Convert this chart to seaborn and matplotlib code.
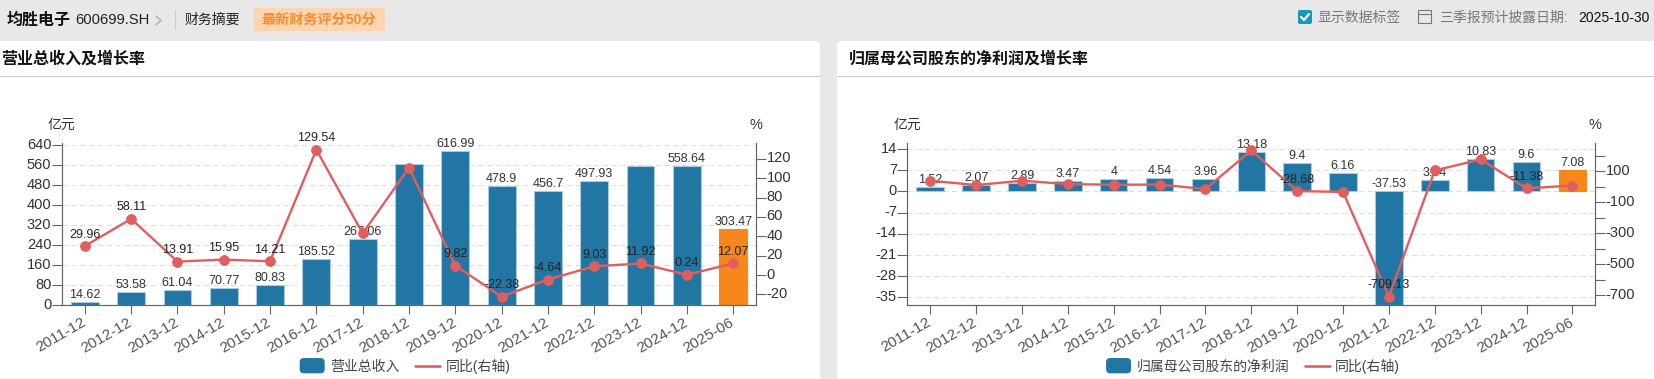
import numpy as np
import pandas as pd
import matplotlib
matplotlib.use("Agg")
import matplotlib.pyplot as plt
import seaborn as sns
from matplotlib.lines import Line2D
from matplotlib.patches import FancyBboxPatch, Patch, Rectangle
from matplotlib.legend_handler import HandlerPatch
from matplotlib.transforms import ScaledTranslation

periods = ["2011-12", "2012-12", "2013-12", "2014-12", "2015-12", "2016-12", "2017-12", "2018-12",
           "2019-12", "2020-12", "2021-12", "2022-12", "2023-12", "2024-12", "2025-06"]

# 营业总收入 (2018, 2023 have no label in the picture)
revenue = [14.62, 53.58, 61.04, 70.77, 80.83, 185.52, 267.06, 565, 616.99, 478.9, 456.7, 497.93, 559, 558.64, 303.47]
revenue_yoy = [29.96, 58.11, 13.91, 15.95, 14.21, 129.54, 43, 111, 9.82, -22.38, -4.64, 9.03, 11.92, 0.24, 12.07]
revenue_bar_hidden = [7, 12]
revenue_yoy_hidden = [6, 7]

# 归母净利润
profit = [1.52, 2.07, 2.89, 3.47, 4, 4.54, 3.96, 13.18, 9.4, 6.16, -37.53, 3.94, 10.83, 9.6, 7.08]
profit_yoy = [38, 10, 38, 16, 12, 13, -16, 233, -28.68, -34.5, -709.13, 104, 175, -11.38, 7]
profit_yoy_hidden = [0, 1, 2, 3, 4, 5, 6, 7, 9, 11, 12, 14]

W, H = 1654, 379
BLUE = "#2176A3"
ORANGE = "#F7871A"
RED = "#E15E5E"
AXIS = "#666666"
TEXT = "#333333"

sns.set_theme(style="white")
plt.rcParams["font.family"] = ["Liberation Sans", "Noto Sans CJK SC"]
plt.rcParams["axes.unicode_minus"] = False


class RoundHandler(HandlerPatch):
    def create_artists(self, legend, orig, xd, yd, width, height, fontsize, trans):
        box = FancyBboxPatch((-xd + 2, -yd), width - 4, height, boxstyle="round,pad=2,rounding_size=3",
                             fc=BLUE, ec="none", transform=trans)
        return [box]


def fx(x):
    return x / W


def fy(y):
    return 1 - y / H


def label(x, y, s, size=10, color=TEXT, ha="left", weight="normal"):
    fig.text(fx(x), fy(y), s, fontsize=size, color=color, ha=ha, va="center", fontweight=weight)


def rect(x0, y0, x1, y1, color, zorder=0):
    fig.add_artist(Rectangle((fx(x0), fy(y1)), fx(x1 - x0), (y1 - y0) / H, transform=fig.transFigure,
                             fc=color, ec="none", zorder=zorder))


def panel(left, right, bars, yoy, ylim, ylim2, yticks, ticks2, labels2, bar_hidden, yoy_hidden, bar_name, legend_x):
    top, bottom = 143.3, 305.3
    ax = fig.add_axes([fx(left), fy(bottom), fx(right - left), (bottom - top) / H])
    ax.patch.set_alpha(0)
    df = pd.DataFrame({"period": periods, "value": bars})
    colors = {p: BLUE for p in periods}
    colors[periods[-1]] = ORANGE
    sns.barplot(data=df, x="period", y="value", hue="period", palette=colors, dodge=False, legend=False,
                width=0.6, saturation=1, edgecolor="#A9CBDD", linewidth=0.8, ax=ax)
    for p in ax.containers[-1]:
        p.set_edgecolor(ORANGE)
    ax.set_xlim(-0.5, len(periods) - 0.5)
    ax.set_ylim(*ylim)
    ax.set_yticks(yticks)
    ax.set_yticklabels([str(v) for v in yticks])
    ax.set_xticks(np.arange(len(periods)))
    ax.set_xticklabels(periods, rotation=30, ha="right", va="center", rotation_mode="anchor")
    ax.set_xlabel("")
    ax.set_ylabel("")
    ax.set_axisbelow(True)
    ax.grid(True, axis="y", color="#DDDDDD", linestyle=(0, (5, 3.5)), linewidth=0.75)
    ax.tick_params(axis="y", length=7, width=0.8, color=AXIS, labelcolor=TEXT, labelsize=10.5, pad=0.5, left=True)
    ax.tick_params(axis="x", length=6.5, width=0.8, color=AXIS, labelcolor="#555555", labelsize=11, pad=5, bottom=True)
    up = ScaledTranslation(0, 2 / 100, fig.dpi_scale_trans)
    for t in ax.get_yticklabels():
        t.set_transform(t.get_transform() + up)
    for i, v in enumerate(bars):
        if i not in bar_hidden:
            ax.annotate(f"{v:g}", (i, max(v, 0)), xytext=(0, 7), textcoords="offset pixels", ha="center", va="center",
                        fontsize=9, color=TEXT, zorder=5)

    ax2 = ax.twinx()
    ax2.patch.set_alpha(0)
    sns.lineplot(x=np.arange(len(periods)), y=yoy, color=RED, linewidth=1.7, marker="o", markersize=7.2,
                 markeredgecolor=RED, markeredgewidth=0.5, ax=ax2, zorder=4)
    ax2.set_ylim(*ylim2)
    ax2.set_yticks(ticks2)
    ax2.set_yticklabels(labels2)
    ax2.set_ylabel("")
    ax2.tick_params(axis="y", length=7, width=0.8, color=AXIS, labelcolor=TEXT, labelsize=10.5, pad=0.5, right=True)
    for t in ax2.get_yticklabels():
        t.set_transform(t.get_transform() + up)
    for i, v in enumerate(yoy):
        if i not in yoy_hidden:
            ax2.annotate(f"{v:g}", (i, v), xytext=(0, 11.5), textcoords="offset pixels", ha="center", va="center",
                         fontsize=9, color="#222222", zorder=6)

    for a in (ax, ax2):
        for side, sp in a.spines.items():
            sp.set_visible(side != "top")
            sp.set_color(AXIS)
            sp.set_linewidth(0.8)

    label(left, 125, "亿元", ha="center")
    label(right, 125, "%", size=10.5, ha="center")

    handles = [Patch(color=BLUE, label=bar_name), Line2D([], [], color=RED, linewidth=1.9, label="同比(右轴)")]
    leg = ax2.legend(handles=handles, loc="center", bbox_to_anchor=(fx(legend_x), fy(366)),
                     bbox_transform=fig.transFigure, ncol=2, frameon=False, fontsize=10, handlelength=1.8,
                     handleheight=0.7, handletextpad=0.4, columnspacing=1.1, labelcolor="#444444",
                     handler_map={Patch: RoundHandler()})
    leg.set_clip_on(False)


fig = plt.figure(figsize=(W / 100, H / 100), dpi=100, facecolor="#E8E8E8")

# 卡片背景
for x0, x1 in [(-6, 820), (837, 1660)]:
    fig.add_artist(FancyBboxPatch((x0, H - 385), x1 - x0, 344, boxstyle="round,pad=0,rounding_size=5",
                                  transform=None, fc="white", ec="none", zorder=0))
    fig.add_artist(Line2D([fx(max(x0, 0)), fx(min(x1, W))], [fy(76), fy(76)], color="#CCCCCC", linewidth=0.8,
                          transform=fig.transFigure, zorder=1))

# 顶部栏
label(7, 20, "均胜电子", size=11.5, color="#111111", weight="bold")
label(75, 20, "600699.SH", size=10.6, color="#222222")
fig.add_artist(Line2D([fx(156), fx(161), fx(156)], [fy(16), fy(20.5), fy(25)], color="#AAAAAA", linewidth=0.9,
                      transform=fig.transFigure))
fig.add_artist(Line2D([fx(175), fx(175)], [fy(10), fy(29)], color="#CCCCCC", linewidth=0.8, transform=fig.transFigure))
label(185, 20, "财务摘要", size=10, color="#222222")
rect(254, 8, 385, 31, "#FDD5B1", zorder=1)
label(261, 20, "最新财务评分50分", size=10.2, color="#F98C2E", weight="bold")
fig.add_artist(FancyBboxPatch((1298, H - 24), 14, 14, boxstyle="round,pad=0,rounding_size=2", transform=None,
                              fc="#1499B8", ec="none", zorder=1))
fig.add_artist(Line2D([fx(1301), fx(1304), fx(1309)], [fy(17), fy(20), fy(14)], color="white", linewidth=1.6,
                      transform=fig.transFigure, zorder=2))
label(1317, 18, "显示数据标签", size=10, color="#777777")
fig.add_artist(Rectangle((fx(1417.5), fy(23)), fx(13.5), 13 / H, transform=fig.transFigure, fc="none", ec="#777777",
                         linewidth=0.8, zorder=1))
fig.add_artist(Line2D([fx(1417.5), fx(1431)], [fy(14), fy(14)], color="#777777", linewidth=0.8,
                      transform=fig.transFigure, zorder=1))
label(1439, 18, "三季报预计披露日期:", size=10, color="#777777")
label(1650, 18, "2025-10-30", size=10, color="#111111", ha="right")

label(1.5, 59, "营业总收入及增长率", size=11.5, color="#111111", weight="bold")
label(849, 59, "归属母公司股东的净利润及增长率", size=11.5, color="#111111", weight="bold")

panel(61.7, 756.3, revenue, revenue_yoy, (0, 648), (-31.3, 136.2), list(range(0, 641, 80)),
      list(range(-20, 121, 20)), [str(v) for v in range(-20, 121, 20)], revenue_bar_hidden, revenue_yoy_hidden,
      "营业总收入", 405)
panel(907.3, 1595.3, profit, profit_yoy, (-37.6, 15.9), (-765, 279), list(range(-35, 15, 7)),
      list(range(-700, 201, 100)), ["-700", "", "-500", "", "-300", "", "-100", "", "100", ""], [], profit_yoy_hidden,
      "归属母公司股东的净利润", 1253)

fig.savefig("out.png", dpi=100, facecolor=fig.get_facecolor())
